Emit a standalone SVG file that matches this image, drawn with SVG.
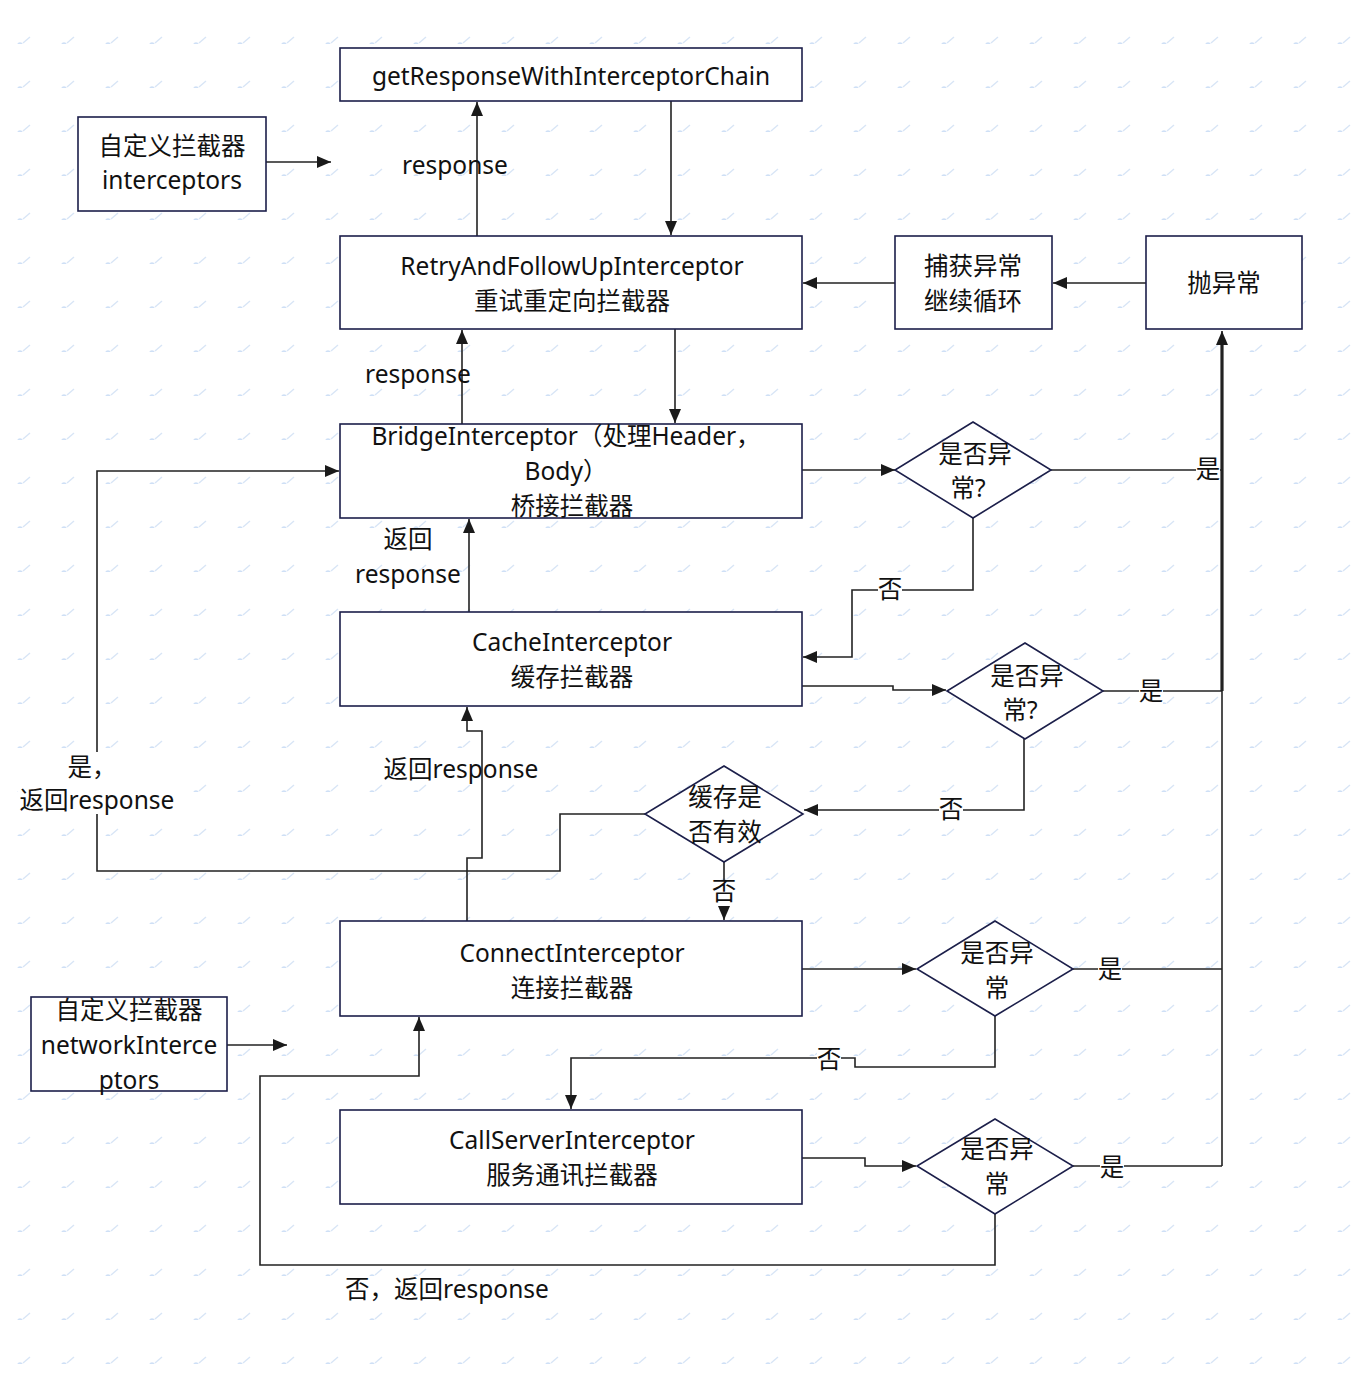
<svg xmlns="http://www.w3.org/2000/svg" width="1370" height="1388" viewBox="0 0 1370 1388">
<style>
  .box{fill:#fff;stroke:#1c1f4a;stroke-width:1.6}
  .dia{fill:#fff;stroke:#1c1f4a;stroke-width:1.6}
  .t{font-family:"Noto Sans","Noto Sans CJK SC",sans-serif;font-size:24.5px;fill:#111;text-anchor:middle}
  .c{fill:none;stroke:#222;stroke-width:1.6}
  .bg{fill:#fff}
</style>
<defs>
  <marker id="arr" viewBox="0 0 14 12" refX="14" refY="6" markerWidth="14" markerHeight="12" orient="auto" markerUnits="userSpaceOnUse">
    <path d="M0,0 L14,6 L0,12 z" fill="#1a1a1a"/>
  </marker>
  <pattern id="wm" x="0" y="0" width="44" height="44" patternUnits="userSpaceOnUse">
    <circle cx="20" cy="45" r="2.8" fill="#cfe0f6"/>
    <path d="M23,43 L30,37" stroke="#d8e5f6" stroke-width="1.4"/>
  </pattern>
</defs>
<rect width="1370" height="1388" fill="#fff"/>
<rect width="1370" height="1388" fill="url(#wm)"/>

<g id="connectors">
  <path class="c" d="M477,236 V102" marker-end="url(#arr)"/>
  <path class="c" d="M671,101 V235" marker-end="url(#arr)"/>
  <path class="c" d="M266,162 H331" marker-end="url(#arr)"/>
  <path class="c" d="M1146,283 H1053" marker-end="url(#arr)"/>
  <path class="c" d="M895,283 H803" marker-end="url(#arr)"/>
  <path class="c" d="M462,424 V330" marker-end="url(#arr)"/>
  <path class="c" d="M675,329 V423" marker-end="url(#arr)"/>
  <path class="c" d="M802,470 H895" marker-end="url(#arr)"/>
  <path class="c" d="M1051,470 H1222"/>
  <path class="c" d="M1222,1166 V331" marker-end="url(#arr)"/>
  <path class="c" d="M1222,691 V345" style="stroke-width:3.2"/>
  <path class="c" d="M973,518 V590 H852 V657 H803" marker-end="url(#arr)"/>
  <path class="c" d="M469,612 V519" marker-end="url(#arr)"/>
  <path class="c" d="M802,686 H893 V690 H946" marker-end="url(#arr)"/>
  <path class="c" d="M1103,691 H1222"/>
  <path class="c" d="M1024,739 V810 H804" marker-end="url(#arr)"/>
  <path class="c" d="M645,814 H560 V871 H97 V471 H339" marker-end="url(#arr)"/>
  <path class="c" d="M724,862 V920" marker-end="url(#arr)"/>
  <path class="c" d="M467,921 V858 H482 V731 H467 V707" marker-end="url(#arr)"/>
  <path class="c" d="M802,969 H916" marker-end="url(#arr)"/>
  <path class="c" d="M1073,969 H1222"/>
  <path class="c" d="M995,1016 V1067 H855 V1058 H571 V1109" marker-end="url(#arr)"/>
  <path class="c" d="M802,1158 H865 V1166 H916" marker-end="url(#arr)"/>
  <path class="c" d="M1073,1166 H1222"/>
  <path class="c" d="M995,1214 V1265 H260 V1076 H419 V1017" marker-end="url(#arr)"/>
  <path class="c" d="M227,1045 H287" marker-end="url(#arr)"/>

  <g id="labels">
    <text class="t" x="455" y="174">response</text>
    <text class="t" x="418" y="383">response</text>
    <text class="t" x="408" y="548">返回</text>
    <text class="t" x="408" y="583">response</text>
    <text class="t" x="461" y="778">返回response</text>
    <rect class="bg" x="18" y="752" width="160" height="62"/>
    <text class="t" x="92" y="776">是，</text>
    <text class="t" x="97" y="809">返回response</text>
    <rect class="bg" x="878" y="578" width="24" height="26"/>
    <text class="t" x="890" y="598">否</text>
    <rect class="bg" x="1196" y="458" width="24" height="26"/>
    <text class="t" x="1208" y="478">是</text>
    <rect class="bg" x="1139" y="680" width="24" height="26"/>
    <text class="t" x="1151" y="700">是</text>
    <rect class="bg" x="939" y="798" width="24" height="26"/>
    <text class="t" x="951" y="818">否</text>
    <rect class="bg" x="712" y="880" width="24" height="26"/>
    <text class="t" x="724" y="900">否</text>
    <rect class="bg" x="1098" y="958" width="24" height="26"/>
    <text class="t" x="1110" y="978">是</text>
    <rect class="bg" x="817" y="1048" width="24" height="26"/>
    <text class="t" x="829" y="1068">否</text>
    <rect class="bg" x="1100" y="1156" width="24" height="26"/>
    <text class="t" x="1112" y="1176">是</text>
    <text class="t" x="447" y="1298">否，返回response</text>
  </g>
</g>

<g id="getResponseWithInterceptorChain">
  <rect class="box" x="340" y="48" width="462" height="53"/>
  <text class="t" x="571" y="85">getResponseWithInterceptorChain</text>
</g>
<g id="interceptors">
  <rect class="box" x="78" y="117" width="188" height="94"/>
  <text class="t" x="172" y="155">自定义拦截器</text>
  <text class="t" x="172" y="189">interceptors</text>
</g>
<g id="retry">
  <rect class="box" x="340" y="236" width="462" height="93"/>
  <text class="t" x="572" y="275">RetryAndFollowUpInterceptor</text>
  <text class="t" x="572" y="310">重试重定向拦截器</text>
</g>
<g id="catch">
  <rect class="box" x="895" y="236" width="157" height="93"/>
  <text class="t" x="973" y="275">捕获异常</text>
  <text class="t" x="973" y="310">继续循环</text>
</g>
<g id="throw">
  <rect class="box" x="1146" y="236" width="156" height="93"/>
  <text class="t" x="1224" y="292">抛异常</text>
</g>
<g id="bridge">
  <rect class="box" x="340" y="424" width="462" height="94"/>
  <text class="t" x="566" y="445">BridgeInterceptor（处理Header，</text>
  <text class="t" x="566" y="480">Body）</text>
  <text class="t" x="572" y="515">桥接拦截器</text>
</g>
<g id="d1">
  <polygon class="dia" points="973,422 1051,470 973,518 895,470"/>
  <text class="t" x="975" y="463">是否异</text>
  <text class="t" x="968" y="497">常?</text>
</g>
<g id="cache">
  <rect class="box" x="340" y="612" width="462" height="94"/>
  <text class="t" x="572" y="651">CacheInterceptor</text>
  <text class="t" x="572" y="686">缓存拦截器</text>
</g>
<g id="d2">
  <polygon class="dia" points="1025,643 1103,691 1025,739 947,691"/>
  <text class="t" x="1027" y="685">是否异</text>
  <text class="t" x="1020" y="719">常?</text>
</g>
<g id="d3">
  <polygon class="dia" points="724,766 803,814 724,862 645,814"/>
  <text class="t" x="725" y="806">缓存是</text>
  <text class="t" x="725" y="841">否有效</text>
</g>
<g id="connect">
  <rect class="box" x="340" y="921" width="462" height="95"/>
  <text class="t" x="572" y="962">ConnectInterceptor</text>
  <text class="t" x="572" y="997">连接拦截器</text>
</g>
<g id="d4">
  <polygon class="dia" points="995,921 1073,969 995,1016 917,969"/>
  <text class="t" x="997" y="962">是否异</text>
  <text class="t" x="997" y="997">常</text>
</g>
<g id="networkInterceptors">
  <rect class="box" x="31" y="997" width="196" height="94"/>
  <text class="t" x="129" y="1019">自定义拦截器</text>
  <text class="t" x="129" y="1054">networkInterce</text>
  <text class="t" x="129" y="1089">ptors</text>
</g>
<g id="callServer">
  <rect class="box" x="340" y="1110" width="462" height="94"/>
  <text class="t" x="572" y="1149">CallServerInterceptor</text>
  <text class="t" x="572" y="1184">服务通讯拦截器</text>
</g>
<g id="d5">
  <polygon class="dia" points="995,1119 1073,1166 995,1214 917,1166"/>
  <text class="t" x="997" y="1158">是否异</text>
  <text class="t" x="997" y="1193">常</text>
</g>
</svg>
